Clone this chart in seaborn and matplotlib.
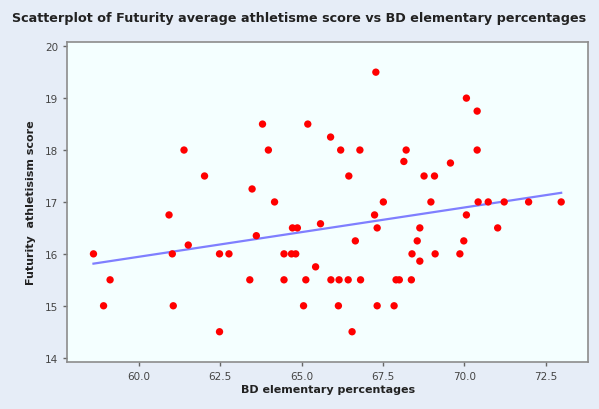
import numpy as np
import pandas as pd
import seaborn as sns
import matplotlib
matplotlib.use('Agg')
from matplotlib import pyplot as plt
from matplotlib.ticker import FormatStrFormatter

"""
Data read off the reference picture
"""
bd_elementary = [
   58.61, 58.92, 59.12, 60.93, 61.03, 61.06, 61.39, 61.52, 62.02, 62.48,
   62.48, 62.77, 63.41, 63.48, 63.61, 63.80, 63.98, 64.17, 64.46, 64.46,
   64.69, 64.82, 64.72, 64.87, 65.06, 65.13, 65.19, 65.43, 65.58, 65.89,
   65.90, 66.15, 66.13, 66.20, 66.43, 66.45, 66.55, 66.65, 66.79, 66.81,
   67.24, 67.28, 67.32, 67.32, 67.51, 67.84, 67.90, 68.00, 68.14, 68.21,
   68.37, 68.39, 68.55, 68.63, 68.63, 68.76, 68.97, 69.08, 69.10, 69.57,
   69.86, 69.98, 70.06, 70.06, 70.39, 70.39, 70.42, 70.73, 71.02, 71.22,
   71.97, 72.97,
]
athletism_score = [
   16.0, 15.0, 15.5, 16.75, 16.0, 15.0, 18.0, 16.17, 17.5, 16.0,
   14.5, 16.0, 15.5, 17.25, 16.35, 18.5, 18.0, 17.0, 16.0, 15.5,
   16.0, 16.0, 16.5, 16.5, 15.0, 15.5, 18.5, 15.75, 16.58, 18.25,
   15.5, 15.5, 15.0, 18.0, 15.5, 17.5, 14.5, 16.25, 18.0, 15.5,
   16.75, 19.5, 16.5, 15.0, 17.0, 15.0, 15.5, 15.5, 17.78, 18.0,
   15.5, 16.0, 16.25, 16.5, 15.86, 17.5, 17.0, 17.5, 16.0, 17.75,
   16.0, 16.25, 19.0, 16.75, 18.75, 18.0, 17.0, 17.0, 16.5, 17.0,
   17.0, 17.0,
]
x_ticks = [60.0, 62.5, 65.0, 67.5, 70.0, 72.5]
y_ticks = [14, 15, 16, 17, 18, 19, 20]

df = pd.DataFrame({'bd': bd_elementary, 'score': athletism_score})

"""
Plot
"""
plt.rcParams['font.family'] = ['DejaVu Sans']
fig = plt.figure(figsize=(5.99, 4.10), dpi=100, facecolor='#e6edf7')
ax = fig.add_axes([0.112, 0.115, 0.870, 0.780], facecolor='#f4ffff')

sns.regplot(data=df, x='bd', y='score', ci=None, ax=ax,
            scatter_kws={'color': '#ff0000', 's': 28, 'alpha': 1,
                         'edgecolor': 'none', 'zorder': 3},
            line_kws={'color': '#7f7fff', 'lw': 1.6, 'zorder': 2})

ax.set_xlim(57.8, 73.8)
ax.set_ylim(13.92, 20.08)
ax.set_xticks(x_ticks)
ax.set_yticks(y_ticks)
ax.xaxis.set_major_formatter(FormatStrFormatter('%.1f'))
ax.tick_params(colors='#666666', labelcolor='#444444', labelsize=7.5,
               length=3, width=1)
for spine in ax.spines.values():
   spine.set_color('#8c8c8c')
   spine.set_linewidth(1.2)

ax.set_xlabel('BD elementary percentages', fontsize=8, fontweight='bold',
              color='#222222', labelpad=2)
ax.set_ylabel('Futurity  athletisism score', fontsize=8, fontweight='bold',
              color='#222222', labelpad=6)
fig.text(0.5, 0.955, 'Scatterplot of Futurity average athletisme score vs BD elementary percentages',
         ha='center', va='center', fontsize=9.2, fontweight='bold', color='#222222')

plt.savefig('out.png', dpi=100, facecolor=fig.get_facecolor())
